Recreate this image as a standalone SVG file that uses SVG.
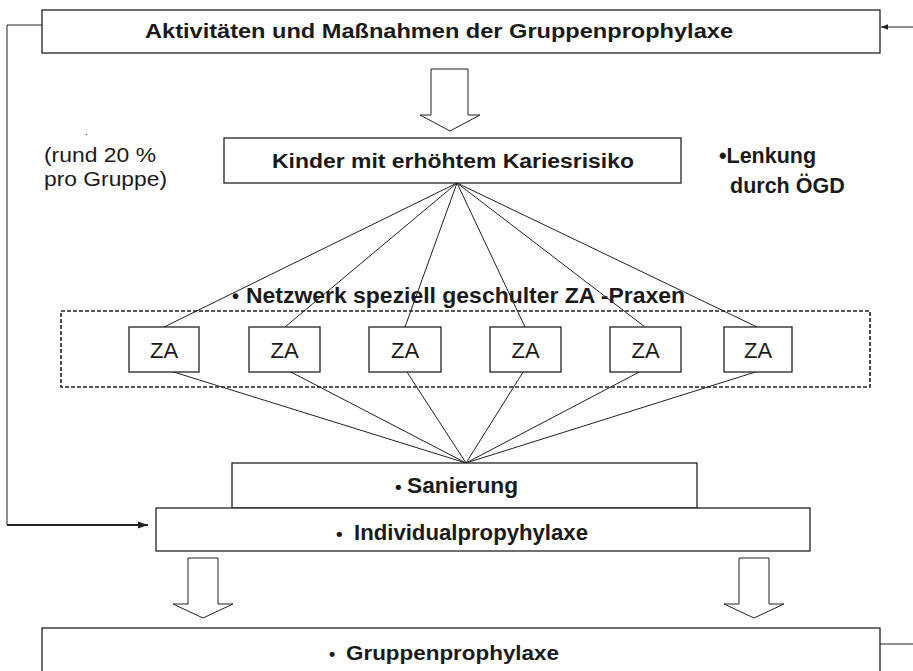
<svg xmlns="http://www.w3.org/2000/svg" width="913" height="671" viewBox="0 0 913 671">
<defs>
<style>
.box{fill:#fff;stroke:#222;stroke-width:1.3}
.ln{fill:none;stroke:#222;stroke-width:1}
.hollow{fill:#fff;stroke:#222;stroke-width:1}
.b{font-family:"Liberation Sans",Arial,sans-serif;font-weight:bold;fill:#1a1a1a}
.r{font-family:"Liberation Sans",Arial,sans-serif;fill:#1a1a1a}
</style>
<marker id="ah" viewBox="0 0 10 10" refX="10" refY="5" markerWidth="7" markerHeight="7" orient="auto" markerUnits="userSpaceOnUse">
<path d="M0,1 L10,5 L0,9 Z" fill="#222"/>
</marker>
<marker id="ah2" viewBox="0 0 10 10" refX="10" refY="5" markerWidth="10" markerHeight="10" orient="auto" markerUnits="userSpaceOnUse">
<path d="M0,1.5 L10,5 L0,8.5 Z" fill="#222"/>
</marker>
</defs>
<rect width="913" height="671" fill="#fff"/>

<g id="connectors">
<path class="ln" d="M42,25 H7 V525"/>
<path d="M7,525 H148" stroke="#222" stroke-width="2.2" fill="none" marker-end="url(#ah2)"/>
<path class="ln" d="M913,27 H881" marker-end="url(#ah)"/>
<path class="ln" d="M880,644 H913"/>
<polygon class="hollow" points="431,69 468,69 468,115 480,115 450,131 420,115 431,115"/>
<polygon class="hollow" points="188,558 218,558 218,604 233,604 203,618 173,604 188,604"/>
<polygon class="hollow" points="739,558 769,558 769,604 784,604 754,618 724,604 739,604"/>
<g class="ln">
<line x1="457" y1="183" x2="164" y2="327"/>
<line x1="457" y1="183" x2="285" y2="327"/>
<line x1="457" y1="183" x2="405" y2="327"/>
<line x1="457" y1="183" x2="525" y2="327"/>
<line x1="457" y1="183" x2="645" y2="327"/>
<line x1="457" y1="183" x2="757" y2="327"/>
<line x1="164" y1="369" x2="466" y2="463"/>
<line x1="285" y1="369" x2="466" y2="463"/>
<line x1="405" y1="369" x2="466" y2="463"/>
<line x1="525" y1="369" x2="466" y2="463"/>
<line x1="645" y1="369" x2="466" y2="463"/>
<line x1="765" y1="369" x2="466" y2="463"/>
</g>
</g>

<g id="top">
<rect class="box" x="42" y="10" width="838" height="43"/>
<text class="b" x="145" y="38" font-size="20" textLength="588" lengthAdjust="spacingAndGlyphs">Aktivitäten und Maßnahmen der Gruppenprophylaxe</text>
</g>

<g id="note">
<text class="r" x="85" y="135" font-size="10">.</text>
<text class="r" x="44" y="162" font-size="21" textLength="112" lengthAdjust="spacingAndGlyphs">(rund 20 %</text>
<text class="r" x="44" y="186" font-size="21" textLength="123" lengthAdjust="spacingAndGlyphs">pro Gruppe)</text>
</g>

<g id="kinder">
<rect class="box" x="224" y="138" width="457" height="45"/>
<text class="b" x="272" y="168" font-size="20" textLength="362" lengthAdjust="spacingAndGlyphs">Kinder mit erhöhtem Kariesrisiko</text>
</g>

<g id="lenkung">
<text class="b" x="719" y="163" font-size="21.5">•Lenkung</text>
<text class="b" x="730" y="193" font-size="21.5">durch ÖGD</text>
</g>

<g id="netzwerk">
<rect x="61" y="311" width="809" height="76" fill="none" stroke="#222" stroke-width="1.6" stroke-dasharray="4,2"/>
<text class="b" x="232" y="303" font-size="20">•</text>
<text class="b" x="246" y="303" font-size="22" textLength="439" lengthAdjust="spacingAndGlyphs">Netzwerk speziell geschulter ZA -Praxen</text>
</g>

<g id="za1"><rect class="box" x="129" y="327" width="70" height="45"/><text class="r" x="164" y="358" font-size="22" text-anchor="middle">ZA</text></g>
<g id="za2"><rect class="box" x="249" y="327" width="71" height="45"/><text class="r" x="284.5" y="358" font-size="22" text-anchor="middle">ZA</text></g>
<g id="za3"><rect class="box" x="369" y="327" width="72" height="45"/><text class="r" x="405" y="358" font-size="22" text-anchor="middle">ZA</text></g>
<g id="za4"><rect class="box" x="490" y="327" width="71" height="45"/><text class="r" x="525.5" y="358" font-size="22" text-anchor="middle">ZA</text></g>
<g id="za5"><rect class="box" x="610" y="327" width="71" height="45"/><text class="r" x="645.5" y="358" font-size="22" text-anchor="middle">ZA</text></g>
<g id="za6"><rect class="box" x="724" y="327" width="68" height="45"/><text class="r" x="758" y="358" font-size="22" text-anchor="middle">ZA</text></g>

<g id="sanierung">
<rect class="box" x="232" y="463" width="465" height="45"/>
<text class="b" x="395" y="493" font-size="19">•</text>
<text class="b" x="407" y="493" font-size="22" textLength="111" lengthAdjust="spacingAndGlyphs">Sanierung</text>
</g>

<g id="individual">
<rect class="box" x="156" y="508" width="654" height="43"/>
<text class="b" x="336" y="540" font-size="19">•</text>
<text class="b" x="354" y="540" font-size="22" textLength="234" lengthAdjust="spacingAndGlyphs">Individualpropyhylaxe</text>
</g>

<g id="gruppen">
<rect class="box" x="42" y="628" width="838" height="60"/>
<text class="b" x="329" y="660" font-size="18">•</text>
<text class="b" x="346" y="660" font-size="20" textLength="213" lengthAdjust="spacingAndGlyphs">Gruppenprophylaxe</text>
</g>
</svg>
